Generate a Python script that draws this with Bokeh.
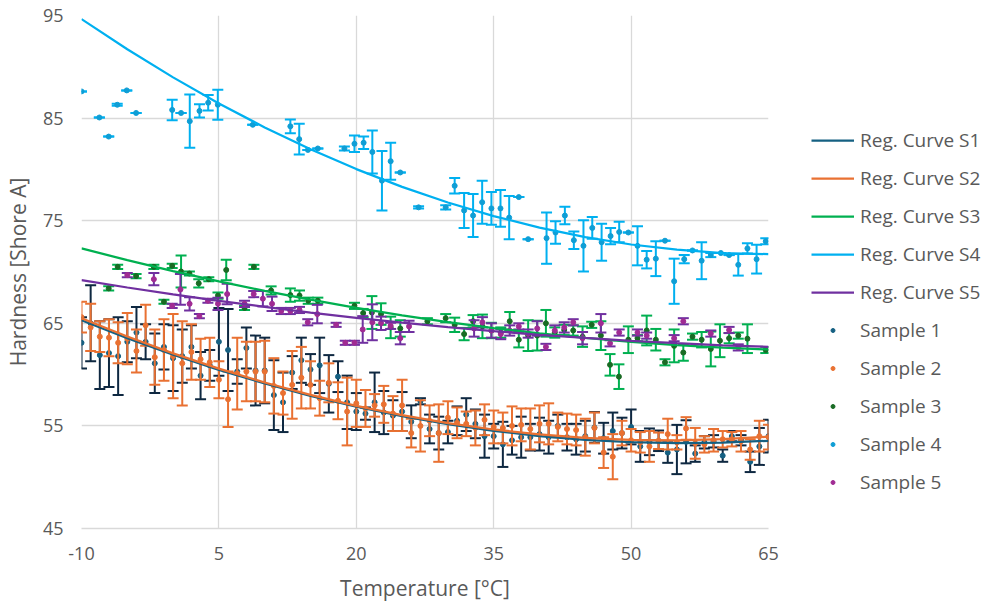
from bokeh.plotting import figure
from bokeh.models import Range1d, FixedTicker, Legend, LegendItem, ColumnDataSource
from bokeh.embed import file_html
from bokeh.resources import INLINE

# ---------------- data ----------------
x_ticks = [-10, 5, 20, 35, 50, 65]
y_ticks = [45, 55, 65, 75, 85, 95]

temps_12 = list(range(-10, 66))

s1_mean = [63.1, 65.0, 61.9, 62.1, 61.8, 63.2, 64.1, 63.2, 61.1, 62.7,
           61.6, 61.8, 62.7, 59.9, 60.9, 63.2, 62.4, 60.3, 62.6, 60.4,
           60.4, 58.0, 57.3, 60.2, 61.4, 60.5, 60.9, 59.1, 59.8, 57.3,
           56.4, 56.2, 57.3, 56.3, 56.0, 56.4, 55.4, 57.4, 54.7, 54.3,
           54.4, 55.5, 56.1, 55.2, 54.0, 54.0, 53.2, 53.6, 53.9, 53.9,
           54.2, 53.9, 55.0, 53.9, 53.7, 54.0, 54.85, 53.8, 54.5, 54.3,
           54.9, 53.0, 53.45, 53.55, 52.4, 52.7, 53.45, 52.3, 53.4, 53.5,
           52.1, 54.0, 53.6, 51.5, 53.0, 54.0]
s1_err = [2.5, 3.7, 3.3, 3.3, 3.8, 2.0, 2.5, 1.7, 2.9, 2.2,
          3.2, 2.6, 2.1, 2.3, 1.5, 3.3, 4.0, 1.2, 2.0, 3.4,
          3.2, 3.4, 2.9, 1.6, 2.2, 1.5, 2.7, 2.8, 1.5, 2.6,
          1.8, 0.6, 2.9, 2.1, 1.5, 1.9, 1.6, 0.3, 1.4, 1.6,
          1.1, 1.4, 1.6, 1.4, 2.1, 1.2, 2.2, 1.4, 2.0, 1.3,
          1.6, 1.6, 1.1, 1.3, 1.5, 1.5, 1.5, 1.5, 1.8, 1.5,
          1.7, 1.5, 1.3, 1.0, 1.0, 2.4, 2.1, 0.8, 0.6, 0.6,
          0.6, 0.5, 0.5, 1.0, 1.8, 1.6]

s2_mean = [65.6, 64.6, 63.7, 63.6, 63.1, 63.5, 62.3, 64.8, 61.7, 62.4,
           61.8, 61.1, 62.2, 61.5, 61.2, 59.5, 57.6, 60.1, 60.3, 60.3,
           60.3, 58.9, 58.2, 59.0, 59.7, 59.0, 57.7, 59.2, 57.45, 56.4,
           57.2, 56.7, 57.0, 57.1, 56.2, 57.0, 54.3, 55.0, 55.5, 54.3,
           55.8, 55.3, 55.2, 54.8, 55.6, 54.9, 54.8, 55.0, 55.1, 54.7,
           55.2, 55.2, 54.9, 54.7, 54.6, 53.9, 54.8, 52.4, 52.0, 54.3,
           53.6, 53.4, 53.0, 53.55, 54.2, 53.4, 54.75, 53.3, 53.2, 53.6,
           53.7, 53.7, 53.5, 52.7, 54.0, 53.9]
s2_err = [1.5, 2.3, 1.5, 1.8, 2.0, 2.5, 2.1, 2.0, 2.7, 3.0,
          4.1, 4.1, 2.7, 2.0, 2.4, 1.8, 2.7, 3.5, 2.9, 2.9,
          3.0, 2.7, 2.1, 3.3, 3.0, 2.3, 1.7, 1.9, 1.8, 3.3,
          2.3, 1.8, 1.1, 1.8, 1.7, 2.5, 1.4, 2.5, 1.5, 2.8,
          1.6, 1.5, 1.2, 1.7, 1.5, 1.6, 1.5, 1.9, 1.6, 2.0,
          1.8, 2.0, 1.4, 1.5, 1.5, 1.8, 1.5, 1.5, 2.2, 1.2,
          1.1, 1.0, 1.5, 0.8, 1.5, 0.7, 1.1, 1.5, 0.8, 1.1,
          0.8, 0.7, 1.0, 1.0, 1.5, 1.2]

s3_temp = [-7.03, -6.05, -4.04, -2.1, -1.0, -0.1, 0.87, 1.78, 2.8, 3.9,
           4.9, 5.8, 7.8, 8.82, 10.7, 12.8, 13.8, 14.75, 15.8, 19.8,
           20.75, 21.7, 22.7, 23.75, 24.8, 27.76, 29.76, 30.74, 31.77, 32.75,
           33.77, 34.75, 35.77, 36.75, 37.74, 38.76, 39.75, 40.7, 41.67, 42.7,
           43.68, 44.7, 45.7, 46.7, 47.7, 48.67, 49.7, 50.7, 51.7, 52.7,
           53.7, 54.7, 55.7, 56.7, 57.7, 58.7, 59.7, 60.7, 61.7, 62.7, 64.7]
s3_mean = [68.4, 70.5, 69.6, 70.5, 67.1, 70.6, 70.05, 69.85, 68.9, 69.3,
           67.7, 70.2, 66.5, 70.5, 68.2, 67.75, 67.7, 67.2, 67.2, 66.7,
           66.0, 66.05, 65.9, 64.6, 64.5, 65.2, 65.5, 64.85, 63.95, 65.2,
           64.7, 64.3, 64.1, 65.2, 63.4, 63.8, 63.8, 65.0, 64.1, 64.35,
           64.3, 63.7, 64.85, 63.8, 60.95, 59.8, 63.4, 63.55, 64.3, 63.4,
           61.2, 62.8, 62.15, 63.7, 63.4, 62.5, 63.3, 63.55, 63.8, 63.5, 62.4]
s3_err = [0.2, 0.2, 0.2, 0.2, 0.2, 0.2, 1.55, 0.2, 0.4, 0.2,
          0.3, 1.0, 0.2, 0.2, 0.4, 0.65, 0.5, 0.3, 0.3, 0.3,
          0.4, 1.6, 1.05, 1.05, 0.8, 0.3, 0.4, 0.7, 0.6, 0.6,
          1.15, 0.75, 0.5, 0.9, 0.75, 1.5, 1.45, 1.3, 0.5, 0.5,
          0.5, 1.0, 0.3, 1.4, 1.05, 1.2, 1.3, 0.3, 1.45, 1.05,
          0.3, 1.6, 0.8, 0.3, 0.75, 1.7, 1.6, 0.5, 0.3, 1.4, 0.3]

s4_temp = [-10.0, -8.05, -7.03, -6.1, -5.06, -4.04, -0.1, 0.87, 1.82, 2.88,
           3.83, 4.88, 8.7, 12.8, 13.77, 14.72, 15.8, 18.7, 19.8, 20.8,
           21.75, 22.8, 23.75, 24.8, 26.8, 29.76, 30.74, 31.77, 32.75, 33.74,
           34.75, 35.74, 36.69, 37.74, 38.76, 40.77, 41.75, 42.77, 43.75, 44.8,
           45.76, 46.78, 47.76, 48.7, 49.7, 50.7, 51.7, 52.7, 53.7, 54.7,
           55.8, 56.7, 57.7, 58.7, 59.8, 60.7, 61.7, 62.7, 63.7, 64.7]
s4_mean = [87.6, 85.06, 83.2, 86.3, 87.7, 85.5, 85.8, 85.5, 84.7, 85.7,
           86.5, 86.3, 84.35, 84.2, 82.95, 81.9, 82.04, 82.04, 82.5, 82.6,
           81.7, 78.9, 80.8, 79.7, 76.3, 76.3, 78.4, 76.0, 75.5, 76.8,
           76.2, 76.2, 75.3, 77.3, 73.2, 73.3, 73.85, 75.5, 73.1, 72.55,
           74.3, 72.9, 73.5, 73.9, 73.85, 72.55, 71.2, 71.3, 73.05, 69.1,
           71.25, 72.1, 71.1, 71.65, 71.85, 71.65, 70.7, 72.3, 71.25, 73.0]
s4_err = [0.0, 0.0, 0.0, 0.1, 0.0, 0.0, 1.0, 0.0, 2.6, 0.65,
          0.75, 1.46, 0.0, 0.67, 1.5, 0.0, 0.0, 0.2, 0.8, 0.6,
          2.1, 2.9, 1.8, 0.0, 0.1, 0.2, 0.75, 1.7, 2.1, 2.1,
          1.6, 1.8, 2.1, 0.0, 0.0, 2.5, 1.1, 0.85, 0.85, 2.5,
          1.05, 1.8, 0.8, 1.0, 0.0, 1.9, 0.85, 1.7, 0.0, 2.2,
          0.4, 0.0, 1.8, 0.2, 0.0, 0.0, 1.05, 0.5, 1.4, 0.3]

s5_temp = [-5.0, -2.1, -0.1, 0.8, 1.8, 2.87, 3.8, 4.9, 5.9, 7.8,
           8.8, 9.8, 10.8, 11.8, 12.8, 13.8, 14.7, 15.74, 17.8, 18.8,
           19.8, 20.7, 21.75, 22.7, 23.75, 24.8, 25.76, 32.86, 33.77, 34.75,
           35.77, 36.75, 37.74, 38.76, 39.75, 40.7, 41.67, 42.7, 43.68, 44.7,
           46.7, 47.7, 48.7, 50.7, 51.7, 54.7, 55.7, 58.7, 60.7, 61.7]
s5_mean = [69.7, 69.3, 66.7, 68.3, 66.9, 65.7, 67.2, 66.9, 67.85, 66.9,
           67.85, 67.4, 66.9, 66.2, 66.2, 66.3, 65.1, 65.9, 64.85, 63.1,
           63.1, 64.4, 65.1, 65.0, 64.75, 63.55, 64.7, 64.5, 65.1, 64.3,
           63.95, 64.3, 64.7, 64.0, 64.5, 62.7, 64.3, 64.6, 65.1, 63.55,
           65.0, 63.05, 64.1, 64.1, 63.8, 63.55, 65.2, 64.0, 64.35, 62.65]
s5_err = [0.2, 0.6, 0.2, 1.5, 0.65, 0.2, 0.2, 0.6, 1.0, 0.3,
          0.3, 0.75, 0.7, 0.3, 0.3, 0.3, 0.3, 0.9, 0.2, 0.2,
          0.2, 1.3, 1.75, 0.65, 0.3, 0.6, 0.55, 0.8, 0.5, 0.7,
          0.5, 0.5, 0.3, 0.4, 0.7, 0.3, 0.5, 0.5, 0.3, 0.6,
          0.9, 0.3, 0.3, 0.3, 0.3, 0.3, 0.3, 0.3, 0.3, 0.3]

# regression curves, read every 5 degC
curve_temp = [-10, -5, 0, 5, 10, 15, 20, 25, 30, 35, 40, 45, 50, 55, 60, 65]
curve_s1 = [65.30, 63.55, 61.94, 60.46, 59.13, 57.93, 56.87, 55.95,
            55.17, 54.52, 54.01, 53.64, 53.41, 53.32, 53.37, 53.55]
curve_s2 = [65.50, 63.71, 62.07, 60.58, 59.23, 58.02, 56.96, 56.05,
            55.28, 54.65, 54.17, 53.84, 53.65, 53.60, 53.70, 53.95]
curve_s3 = [72.30, 71.16, 70.09, 69.09, 68.16, 67.30, 66.51, 65.78,
            65.12, 64.54, 64.02, 63.57, 63.18, 62.87, 62.63, 62.45]
curve_s4 = [94.65, 91.71, 88.97, 86.43, 84.09, 81.96, 80.03, 78.30,
            76.77, 75.45, 74.32, 73.40, 72.68, 72.17, 71.85, 71.74]
curve_s5 = [69.20, 68.49, 67.82, 67.19, 66.60, 66.05, 65.54, 65.07,
            64.63, 64.24, 63.88, 63.57, 63.29, 63.06, 62.86, 62.70]

# ---------------- figure ----------------
FONT = "Open Sans"
TXT = "#595959"

p = figure(frame_width=687, frame_height=513,
           x_range=Range1d(-10, 65), y_range=Range1d(45, 95),
           output_backend="svg", toolbar_location=None,
           min_border_left=80, min_border_right=215, min_border_top=15,
           min_border_bottom=77)
p.outline_line_color = None
p.background_fill_color = "white"
p.border_fill_color = "white"

p.xaxis.ticker = FixedTicker(ticks=x_ticks)
p.yaxis.ticker = FixedTicker(ticks=y_ticks)
p.xaxis.major_label_overrides = {-10: "-10"}
p.grid.grid_line_color = "#D9D9D9"
p.grid.grid_line_width = 1.3
p.xaxis.axis_line_color = "#D9D9D9"
p.xaxis.axis_line_width = 1.3
p.yaxis.axis_line_color = None
p.axis.major_tick_line_color = None
p.axis.minor_tick_line_color = None
p.axis.major_tick_out = 0
p.axis.major_tick_in = 0
p.axis.minor_tick_out = 0
p.axis.minor_tick_in = 0
p.axis.major_label_text_color = TXT
p.axis.major_label_text_font = FONT
p.axis.major_label_text_font_size = "18px"
p.axis.axis_label_text_color = TXT
p.axis.axis_label_text_font = FONT
p.axis.axis_label_text_font_size = "21px"
p.axis.axis_label_text_font_style = "normal"
p.xaxis.axis_label = "Temperature [°C]"
p.yaxis.axis_label = "Hardness [Shore A]"
p.xaxis.major_label_standoff = 18
p.xaxis.axis_label_standoff = 11
p.yaxis.major_label_standoff = 18
p.yaxis.axis_label_standoff = 8


def draw_sample(temps, means, errs, bar_color, dot_color):
    lower = [m - e for m, e in zip(means, errs)]
    upper = [m + e for m, e in zip(means, errs)]
    src = ColumnDataSource(dict(t=temps, m=means, lo=lower, hi=upper))
    p.segment(x0="t", y0="lo", x1="t", y1="hi", source=src,
              line_color=bar_color, line_width=2)
    p.scatter(x="t", y="hi", source=src, marker="dash", size=11,
              line_color=bar_color, line_width=2)
    p.scatter(x="t", y="lo", source=src, marker="dash", size=11,
              line_color=bar_color, line_width=2)
    return p.scatter(x="t", y="m", source=src, marker="circle", size=5,
                     fill_color=dot_color, line_color=dot_color)


r_s1 = draw_sample(temps_12, s1_mean, s1_err, "#0E2841", "#156082")
r_s2 = draw_sample(temps_12, s2_mean, s2_err, "#E97132", "#E97132")
r_s3 = draw_sample(s3_temp, s3_mean, s3_err, "#00B050", "#196B24")
r_s4 = draw_sample(s4_temp, s4_mean, s4_err, "#00B0F0", "#0F9ED5")
r_s5 = draw_sample(s5_temp, s5_mean, s5_err, "#7030A0", "#A02B93")

c1 = p.line(curve_temp, curve_s1, line_color="#156082", line_width=2.25)
c2 = p.line(curve_temp, curve_s2, line_color="#E97132", line_width=2.25)
c3 = p.line(curve_temp, curve_s3, line_color="#00B050", line_width=2.25)
c4 = p.line(curve_temp, curve_s4, line_color="#00B0F0", line_width=2.25)
c5 = p.line(curve_temp, curve_s5, line_color="#7030A0", line_width=2.25)

items = [
    LegendItem(label="Reg. Curve S1", renderers=[c1]),
    LegendItem(label="Reg. Curve S2", renderers=[c2]),
    LegendItem(label="Reg. Curve S3", renderers=[c3]),
    LegendItem(label="Reg. Curve S4", renderers=[c4]),
    LegendItem(label="Reg. Curve S5", renderers=[c5]),
    LegendItem(label="Sample 1", renderers=[r_s1]),
    LegendItem(label="Sample 2", renderers=[r_s2]),
    LegendItem(label="Sample 3", renderers=[r_s3]),
    LegendItem(label="Sample 4", renderers=[r_s4]),
    LegendItem(label="Sample 5", renderers=[r_s5]),
]
legend = Legend(items=items, location=(43, 33), orientation="vertical",
                glyph_width=43, glyph_height=10, label_height=26, spacing=12,
                label_standoff=6, padding=0, margin=0,
                label_text_font=FONT, label_text_font_size="19px",
                label_text_color=TXT, border_line_color=None,
                background_fill_alpha=0)
p.add_layout(legend, "right")

open("out.html", "w").write(file_html(p, INLINE))
